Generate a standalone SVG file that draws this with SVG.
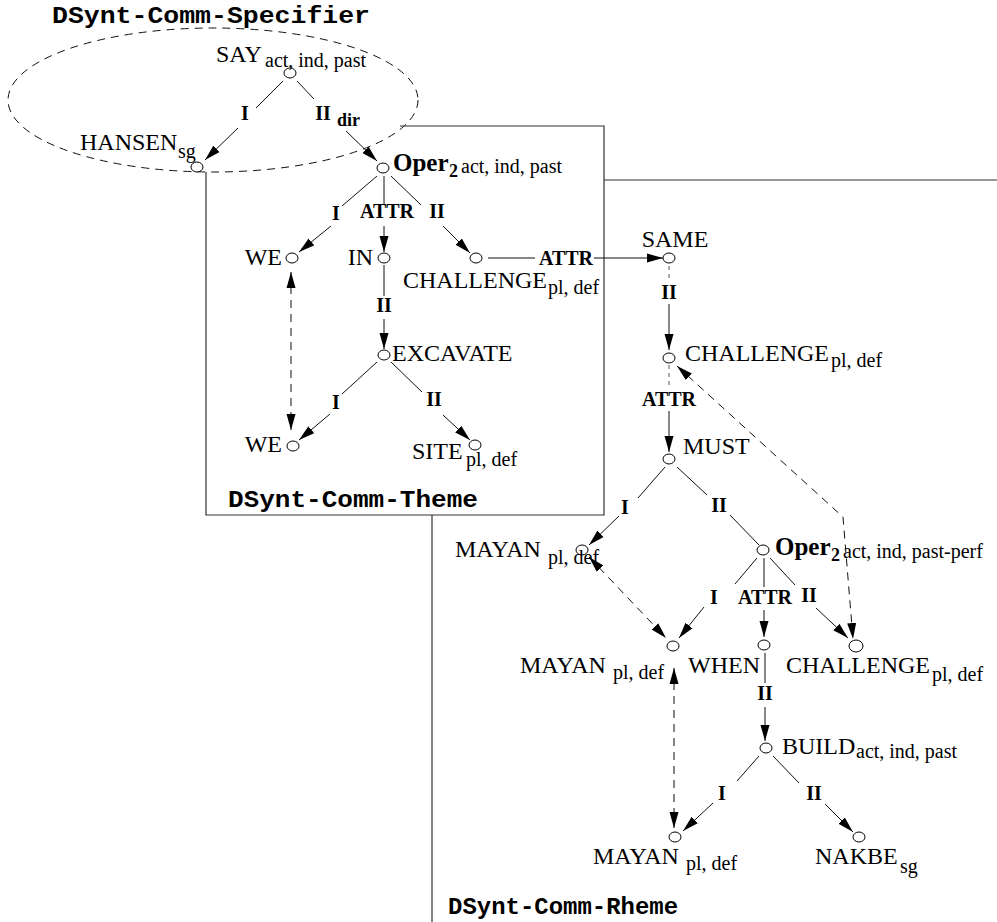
<svg xmlns="http://www.w3.org/2000/svg" width="997" height="922" viewBox="0 0 997 922">
<style>
.bg{fill:#fff}
.n{fill:#fff;stroke:#000;stroke-width:1}
.lb{font-family:"Liberation Serif","Times New Roman",serif;font-size:24px;fill:#000}
.sb{font-family:"Liberation Serif","Times New Roman",serif;font-size:20px;fill:#000}
.op{font-family:"Liberation Serif","Times New Roman",serif;font-size:25px;font-weight:bold;fill:#000}
.o2{font-family:"Liberation Serif","Times New Roman",serif;font-size:18px;font-weight:bold;fill:#000}
.el{font-family:"Liberation Serif","Times New Roman",serif;font-size:20px;font-weight:bold;fill:#000;text-anchor:middle}
.ti{font-family:"Liberation Mono","Courier New",monospace;font-size:24px;font-weight:bold;fill:#000}
.e{fill:none;stroke:#111;stroke-width:1}
.d{fill:none;stroke:#111;stroke-width:1;stroke-dasharray:8 6}
.ds{fill:none;stroke:#555;stroke-width:1;stroke-dasharray:4 4}
.reg{fill:none;stroke:#333;stroke-width:1.2}
</style>
<defs>
<marker id="ah" markerUnits="userSpaceOnUse" markerWidth="17" markerHeight="10" refX="16" refY="4.5" orient="auto-start-reverse" viewBox="0 0 17 9">
<path d="M0,0 L16,4.5 L0,9 z" fill="#000"/>
</marker>
</defs>
<rect class="bg" x="0" y="0" width="997" height="922"/>

<g id="regions">
<ellipse class="d" cx="213" cy="100" rx="205" ry="72"/>
<path class="reg" d="M400 126 H604 V515 H206 V172"/>
<path class="reg" d="M604 180 H997"/>
<path class="reg" d="M432 515 V922"/>
<text class="ti" x="52" y="23" textLength="318" lengthAdjust="spacingAndGlyphs">DSynt-Comm-Specifier</text>
<text class="ti" x="228" y="507" textLength="250" lengthAdjust="spacingAndGlyphs">DSynt-Comm-Theme</text>
<text class="ti" x="448" y="914" textLength="230" lengthAdjust="spacingAndGlyphs">DSynt-Comm-Rheme</text>
</g>

<g id="connectors">
<path class="e" d="M283 81 L256 108 M238 128 L205 160" marker-end="url(#ah)"/>
<text class="el" x="245" y="120">I</text>
<path class="e" d="M297 81 L314 99 M346 131 L377 161" marker-end="url(#ah)"/>
<text class="el" x="323" y="120">II</text>
<text class="o2" x="337" y="126">dir</text>
<path class="e" d="M377 176 L342 206 M331 226 L299 252" marker-end="url(#ah)"/>
<text class="el" x="336" y="220">I</text>
<path class="e" d="M384 176 L384 204 M384 226 L384 252" marker-end="url(#ah)"/>
<text class="el" x="387" y="218">ATTR</text>
<path class="e" d="M391 176 L421 205 M443 226 L470 253" marker-end="url(#ah)"/>
<text class="el" x="437" y="218">II</text>
<path class="e" d="M384 265 L384 296 M384 319 L384 349" marker-end="url(#ah)"/>
<text class="el" x="384" y="312">II</text>
<path class="e" d="M377 362 L342 394 M330 414 L299 440" marker-end="url(#ah)"/>
<text class="el" x="336" y="409">I</text>
<path class="e" d="M391 362 L422 392 M443 415 L470 440" marker-end="url(#ah)"/>
<text class="el" x="434" y="406">II</text>
<path class="d" d="M291 272 L291 430" marker-start="url(#ah)" marker-end="url(#ah)"/>
<path class="e" d="M488 258 L535 258 M594 258 L663 258" marker-end="url(#ah)"/>
<text class="el" x="566" y="265">ATTR</text>
<path class="ds" d="M669 266 L669 282"/>
<path class="e" d="M669 304 L669 350" marker-end="url(#ah)"/>
<text class="el" x="669" y="299">II</text>
<path class="ds" d="M669 365 L669 389"/>
<path class="e" d="M669 411 L669 452" marker-end="url(#ah)"/>
<text class="el" x="669" y="406">ATTR</text>
<path class="d" d="M677 366 L843 517 L853 639" marker-start="url(#ah)" marker-end="url(#ah)"/>
<path class="e" d="M665 467 L638 498 M619 516 L589 545" marker-end="url(#ah)"/>
<text class="el" x="625" y="514">I</text>
<path class="e" d="M677 467 L707 495 M730 515 L759 545"/>
<text class="el" x="719" y="512">II</text>
<path class="d" d="M589 557 L666 638" marker-start="url(#ah)" marker-end="url(#ah)"/>
<path class="e" d="M757 558 L735 584 M704 607 L679 638" marker-end="url(#ah)"/>
<text class="el" x="714" y="604">I</text>
<path class="e" d="M764 558 L764 587 M764 610 L764 637" marker-end="url(#ah)"/>
<text class="el" x="765" y="604">ATTR</text>
<path class="e" d="M770 558 L795 585 M816 608 L848 638" marker-end="url(#ah)"/>
<text class="el" x="809" y="602">II</text>
<path class="e" d="M765 653 L765 683 M765 707 L765 741" marker-end="url(#ah)"/>
<text class="el" x="765" y="700">II</text>
<path class="d" d="M674 668 L674 828" marker-start="url(#ah)" marker-end="url(#ah)"/>
<path class="e" d="M759 756 L737 781 M713 803 L683 831" marker-end="url(#ah)"/>
<text class="el" x="722" y="800">I</text>
<path class="e" d="M773 756 L799 783 M825 804 L853 832" marker-end="url(#ah)"/>
<text class="el" x="814" y="800">II</text>
</g>

<g id="n-say"><ellipse class="n" cx="290" cy="73" rx="6" ry="5"/><text class="lb" x="216" y="62">SAY</text><text class="sb" x="265" y="67">act, ind, past</text></g>
<g id="n-hansen"><ellipse class="n" cx="197" cy="167" rx="6" ry="5"/><text class="lb" x="80" y="150">HANSEN</text><text class="sb" x="178" y="158">sg</text></g>
<g id="n-oper"><ellipse class="n" cx="383" cy="168" rx="6" ry="5"/><text class="op" x="393" y="171">Oper</text><text class="o2" x="449" y="177">2</text><text class="sb" x="461" y="173">act, ind, past</text></g>
<g id="n-we1"><ellipse class="n" cx="292" cy="258" rx="6" ry="5"/><text class="lb" x="282" y="265" text-anchor="end">WE</text></g>
<g id="n-in"><ellipse class="n" cx="384" cy="258" rx="6" ry="5"/><text class="lb" x="373" y="265" text-anchor="end">IN</text></g>
<g id="n-challenge1"><ellipse class="n" cx="476" cy="258" rx="6" ry="5"/><text class="lb" x="403" y="288">CHALLENGE</text><text class="sb" x="548" y="294">pl, def</text></g>
<g id="n-excavate"><ellipse class="n" cx="384" cy="355" rx="6" ry="5"/><text class="lb" x="392" y="361">EXCAVATE</text></g>
<g id="n-we2"><ellipse class="n" cx="293" cy="446" rx="6" ry="5"/><text class="lb" x="282" y="452" text-anchor="end">WE</text></g>
<g id="n-site"><ellipse class="n" cx="475" cy="445" rx="6" ry="5"/><text class="lb" x="412" y="459">SITE</text><text class="sb" x="466" y="466">pl, def</text></g>
<g id="n-same"><ellipse class="n" cx="669" cy="258" rx="6" ry="5"/><text class="lb" x="675" y="247" text-anchor="middle">SAME</text></g>
<g id="n-challenge2"><ellipse class="n" cx="669" cy="358" rx="6" ry="5"/><text class="lb" x="685" y="361">CHALLENGE</text><text class="sb" x="831" y="367">pl, def</text></g>
<g id="n-must"><ellipse class="n" cx="669" cy="459" rx="6" ry="5"/><text class="lb" x="683" y="454">MUST</text></g>
<g id="n-mayan1"><ellipse class="n" cx="582" cy="550" rx="6" ry="5"/><text class="lb" x="455" y="557">MAYAN</text><text class="sb" x="548" y="564">pl, def</text></g>
<g id="n-oper2"><ellipse class="n" cx="763" cy="550" rx="6" ry="5"/><text class="op" x="775" y="555">Oper</text><text class="o2" x="831" y="561">2</text><text class="sb" x="843" y="558">act, ind, past-perf</text></g>
<g id="n-mayan2"><ellipse class="n" cx="673" cy="646" rx="6" ry="5"/><text class="lb" x="520" y="673">MAYAN</text><text class="sb" x="613" y="679">pl, def</text></g>
<g id="n-when"><ellipse class="n" cx="764" cy="645" rx="6" ry="5"/><text class="lb" x="688" y="673">WHEN</text></g>
<g id="n-challenge3"><ellipse class="n" cx="856" cy="646" rx="7" ry="6"/><text class="lb" x="786" y="673">CHALLENGE</text><text class="sb" x="932" y="681">pl, def</text></g>
<g id="n-build"><ellipse class="n" cx="766" cy="748" rx="6" ry="5"/><text class="lb" x="782" y="754">BUILD</text><text class="sb" x="856" y="758">act, ind, past</text></g>
<g id="n-mayan3"><ellipse class="n" cx="675" cy="837" rx="6" ry="5"/><text class="lb" x="593" y="864">MAYAN</text><text class="sb" x="686" y="870">pl, def</text></g>
<g id="n-nakbe"><ellipse class="n" cx="859" cy="837" rx="6" ry="5"/><text class="lb" x="815" y="864">NAKBE</text><text class="sb" x="900" y="873">sg</text></g>
</svg>
